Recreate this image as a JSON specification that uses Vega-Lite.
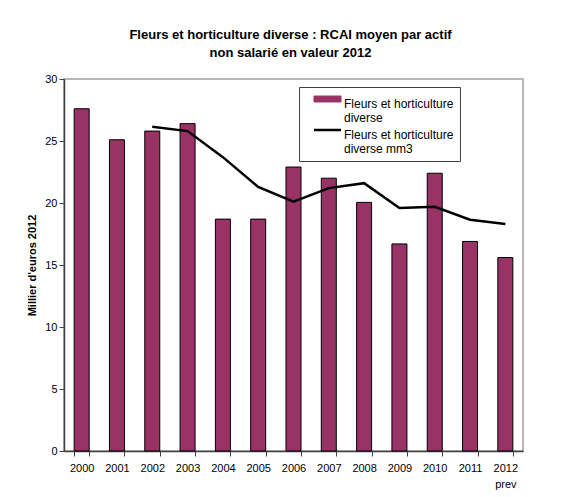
{
  "$schema": "https://vega.github.io/schema/vega-lite/v6.json",
  "width": 459,
  "height": 372,
  "autosize": "none",
  "padding": {"left": 64, "top": 79, "right": 56, "bottom": 46},
  "background": "white",
  "title": {
    "text": ["Fleurs et horticulture diverse : RCAI moyen par actif", "non salarié en valeur 2012"],
    "fontSize": 13,
    "fontWeight": "bold",
    "font": "Liberation Sans",
    "color": "black",
    "frame": "group",
    "anchor": "middle",
    "lineHeight": 18,
    "offset": 13,
    "dx": -3
  },
  "config": {
    "font": "Liberation Sans",
    "view": {"stroke": "#A0A0A0", "strokeWidth": 1.5}
  },
  "data": {
    "values": [
      {"year": "2000", "rcai": 27.6, "mm3": null},
      {"year": "2001", "rcai": 25.1, "mm3": null},
      {"year": "2002", "rcai": 25.8, "mm3": 26.15},
      {"year": "2003", "rcai": 26.4, "mm3": 25.8},
      {"year": "2004", "rcai": 18.7, "mm3": 23.7},
      {"year": "2005", "rcai": 18.7, "mm3": 21.3},
      {"year": "2006", "rcai": 22.9, "mm3": 20.1},
      {"year": "2007", "rcai": 22.0, "mm3": 21.2},
      {"year": "2008", "rcai": 20.05, "mm3": 21.6},
      {"year": "2009", "rcai": 16.7, "mm3": 19.6},
      {"year": "2010", "rcai": 22.4, "mm3": 19.7},
      {"year": "2011", "rcai": 16.9, "mm3": 18.65},
      {"year": "2012 prev", "rcai": 15.6, "mm3": 18.3}
    ]
  },
  "encoding": {
    "x": {
      "field": "year",
      "type": "nominal",
      "sort": null,
      "scale": {"paddingInner": 0.575, "paddingOuter": 0.2875},
      "axis": {
        "title": null,
        "labelAngle": 0,
        "labelFontSize": 11,
        "labelColor": "black",
        "labelExpr": "datum.value == '2012 prev' ? ['2012', 'prev'] : datum.value",
        "labelLineHeight": 16,
        "labelBaseline": "top",
        "labelPadding": 6,
        "tickBand": "extent",
        "tickSize": 5,
        "tickColor": "#404040",
        "domainColor": "#404040",
        "domainWidth": 1.5
      }
    },
    "color": {
      "datum": "Fleurs et horticulture diverse",
      "type": "nominal",
      "scale": {
        "domain": ["Fleurs et horticulture diverse", "Fleurs et horticulture diverse mm3"],
        "range": ["#993366", "#000000"]
      },
      "legend": {
        "title": null,
        "orient": "none",
        "legendX": 235,
        "legendY": 8,
        "padding": 6,
        "strokeColor": "#404040",
        "fillColor": "white",
        "symbolOffset": 16.5,
        "labelOffset": 10.5,
        "labelFontSize": 12,
        "labelColor": "black",
        "labelLimit": 200,
        "labelBaseline": "top",
        "labelExpr": "datum.label == 'Fleurs et horticulture diverse' ? ['Fleurs et horticulture', 'diverse'] : ['Fleurs et horticulture', 'diverse mm3']",
        "rowPadding": 0,
        "encode": {
          "labels": {
            "update": {
              "lineHeight": {"value": 13.5}
            }
          },
          "symbols": {
            "update": {
              "shape": {"signal": "datum.value == 'Fleurs et horticulture diverse' ? 'M-1,-0.22H1V0.22H-1Z' : 'stroke'"},
              "fill": {"signal": "datum.value == 'Fleurs et horticulture diverse' ? '#993366' : 'transparent'"},
              "stroke": {"value": "black"},
              "strokeWidth": {"signal": "datum.value == 'Fleurs et horticulture diverse' ? 1 : 2.5"},
              "size": {"value": 729},
              "opacity": {"value": 1}
            }
          }
        }
      }
    }
  },
  "layer": [
    {
      "mark": {"type": "bar", "stroke": "black", "strokeWidth": 1},
      "encoding": {
        "y": {
          "field": "rcai",
          "type": "quantitative",
          "scale": {"domain": [0, 30]},
          "axis": {
            "title": "Millier d'euros 2012",
            "titleFontSize": 11,
            "titleFontWeight": "bold",
            "titleColor": "black",
            "titlePadding": 7,
            "labelFontSize": 11,
            "labelColor": "black",
            "values": [0, 5, 10, 15, 20, 25, 30],
            "grid": false,
            "tickSize": 5,
            "tickColor": "#404040",
            "domainColor": "#404040",
            "domainWidth": 1.5,
            "labelPadding": 2
          }
        }
      }
    },
    {
      "mark": {"type": "line", "strokeWidth": 2.5},
      "encoding": {
        "y": {"field": "mm3", "type": "quantitative"},
        "color": {"datum": "Fleurs et horticulture diverse mm3", "type": "nominal"}
      }
    }
  ]
}
